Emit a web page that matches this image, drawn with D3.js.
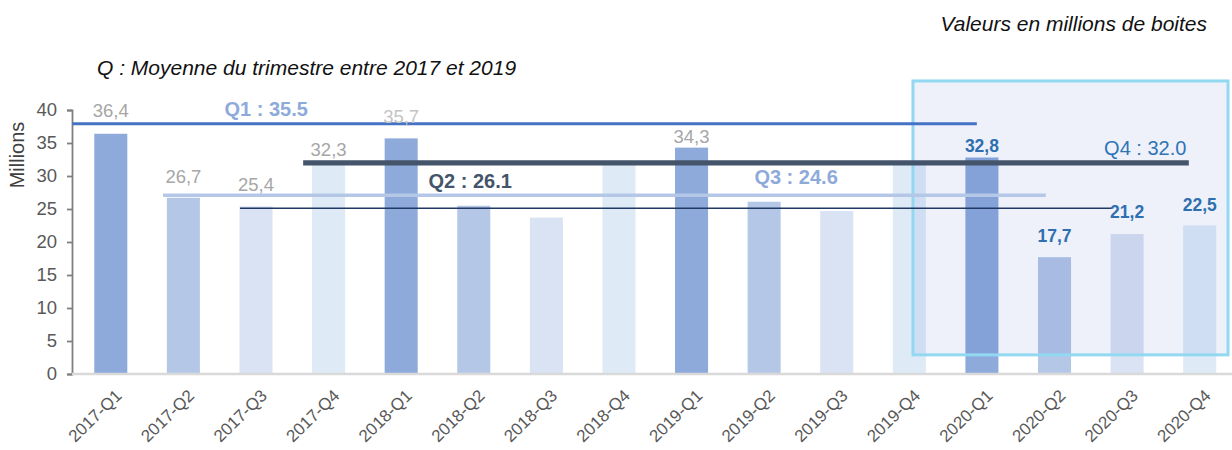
<!DOCTYPE html>
<html lang="fr">
<head>
<meta charset="utf-8">
<title>Boites par trimestre</title>
<script src="https://d3js.org/d3.v7.min.js"></script>
<style>
  body { margin: 0; background: #fff; }
  svg { font-family: "Liberation Sans", Arial, sans-serif; }
</style>
</head>
<body>
<div id="chart"></div>
<script>
// data (millions de boites)
var quarters = ["2017-Q1","2017-Q2","2017-Q3","2017-Q4","2018-Q1","2018-Q2","2018-Q3","2018-Q4",
                "2019-Q1","2019-Q2","2019-Q3","2019-Q4","2020-Q1","2020-Q2","2020-Q3","2020-Q4"];
var values = [36.4, 26.7, 25.4, 32.3, 35.7, 25.5, 23.7, 31.9,
              34.3, 26.1, 24.7, 31.8, 32.8, 17.7, 21.2, 22.5];
var valueLabels = ["36,4","26,7","25,4","32,3","35,7",null,null,null,
                   "34,3",null,null,null,"32,8","17,7","21,2","22,5"];
var yTicks = [0, 5, 10, 15, 20, 25, 30, 35, 40];

// quarter averages 2017-2019: label, level of the drawn line, span (in bar index units)
var avgNames  = ["Q1 : 35.5", "Q2 : 26.1", "Q3 : 24.6", "Q4 : 32.0"];
var avgLevels = [37.9, 27.1, 25.1, 32.0];
var avgStart  = [-0.53, 0.72, 1.78, 2.65];
var avgEnd    = [11.93, 12.88, 13.79, 14.85];
var avgLabelX = [2.14, 4.95, 9.44, 14.25];
var avgLabelY = [39.1, 28.2, 28.8, 33.2];

var W = 1232, H = 450;
var svg = d3.select("#chart").append("svg")
    .attr("width", W).attr("height", H);

var x = d3.scaleBand().domain(quarters).range([74.5, 1236]).padding(0);
var xi = d3.scaleLinear().domain([-0.5, quarters.length - 0.5]).range([74.5, 1236]);
var y = d3.scaleLinear().domain([0, 40]).range([374, 110]);

var barColors = ["#8eaadb", "#b4c7e7", "#dae3f3", "#deebf7"];
var barW = x.bandwidth() * 0.455;
// gap between bar top and label baseline (labels were placed by hand in the source)
var labelGap = [17, 15, 15, 5, 15, 0, 0, 0, 5, 0, 0, 0, 5.5, 15, 16, 15];

// titles
svg.append("text")
    .attr("x", 1207).attr("y", 31)
    .attr("text-anchor", "end")
    .style("font-style", "italic").style("font-size", "21px").style("fill", "#111")
    .text("Valeurs en millions de boites");
svg.append("text")
    .attr("x", 97).attr("y", 75)
    .style("font-style", "italic").style("font-size", "21px").style("fill", "#111")
    .text("Q : Moyenne du trimestre entre 2017 et 2019");

// bars
svg.selectAll("rect.bar")
  .data(values)
  .enter().append("rect")
    .attr("class", "bar")
    .attr("x", function(d, i) { return x(quarters[i]) + (x.bandwidth() - barW) / 2; })
    .attr("y", function(d) { return y(d); })
    .attr("width", barW)
    .attr("height", function(d) { return y(0) - y(d); })
    .style("fill", function(d, i) { return barColors[i % 4]; });

// 2020 highlight box
svg.append("rect")
    .attr("x", xi(11.05)).attr("y", y(44.4))
    .attr("width", xi(15.39) - xi(11.05))
    .attr("height", y(2.9) - y(44.4))
    .style("fill", "rgba(0,46,180,0.065)")
    .style("stroke", "#93d8f1")
    .style("stroke-width", 3);

// y axis
var yAxis = svg.append("g")
    .attr("transform", "translate(72,0)")
    .call(d3.axisLeft(y).tickValues(yTicks).tickSize(5).tickPadding(10));
yAxis.select(".domain").attr("stroke", "#7f7f7f").attr("stroke-width", 1.8);
yAxis.selectAll(".tick line").attr("stroke", "#7f7f7f").attr("stroke-width", 1.8);
yAxis.selectAll(".tick text")
    .style("font-size", "18.5px").style("fill", "#595959")
    .style("font-family", "'Liberation Sans', Arial, sans-serif");

svg.append("text")
    .attr("transform", "translate(24,155) rotate(-90)")
    .attr("text-anchor", "middle")
    .style("font-size", "20px").style("fill", "#404040")
    .text("Millions");

// x axis
var xAxis = svg.append("g")
    .attr("transform", "translate(0," + y(0) + ")")
    .call(d3.axisBottom(x).tickSize(0).tickPadding(0));
xAxis.select(".domain").attr("stroke", "#d9d9d9").attr("stroke-width", 2.5)
    .attr("d", "M72,0H1232");
xAxis.selectAll(".tick text")
    .attr("text-anchor", "end")
    .attr("dy", 0)
    .attr("transform", "translate(12,23) rotate(-44)")
    .style("font-size", "17px").style("fill", "#595959")
    .style("font-family", "'Liberation Sans', Arial, sans-serif");

// average lines
var lineColors = ["#4472c4", "#b4c7e7", "#1f3864", "#44546a"];
var lineWidths = [3, 3.5, 1.5, 5.3];
avgLevels.forEach(function(v, i) {
  svg.append("line")
      .attr("x1", xi(avgStart[i])).attr("x2", xi(avgEnd[i]))
      .attr("y1", y(v)).attr("y2", y(v))
      .style("stroke", lineColors[i])
      .style("stroke-width", lineWidths[i]);
});

var labelColors = ["#8eaadb", "#44546a", "#8eaadb", "#2e75b6"];
var labelWeights = ["bold", "bold", "bold", "normal"];
avgNames.forEach(function(t, i) {
  svg.append("text")
      .attr("x", xi(avgLabelX[i])).attr("y", y(avgLabelY[i]))
      .attr("text-anchor", "middle")
      .style("font-size", "20px")
      .style("font-weight", labelWeights[i])
      .style("fill", labelColors[i])
      .text(t);
});

// value labels
var labelled = values.map(function(v, i) {
  return { q: quarters[i], v: v, text: valueLabels[i], gap: labelGap[i], hi: i >= 12, i: i };
}).filter(function(d) { return d.text !== null; });

svg.selectAll("text.val")
  .data(labelled)
  .enter().append("text")
    .attr("class", "val")
    .attr("x", function(d) { return x(d.q) + x.bandwidth() / 2; })
    .attr("y", function(d) { return y(d.v) - d.gap; })
    .attr("text-anchor", "middle")
    .style("font-size", function(d) { return d.hi ? "17.5px" : "18.5px"; })
    .style("font-weight", function(d) { return d.hi ? "bold" : "normal"; })
    .style("fill", function(d) { return d.hi ? "#2e6fb0" : (d.i === 4 ? "#c4c4c4" : "#a6a6a6"); })
    .text(function(d) { return d.text; });
</script>
</body>
</html>
